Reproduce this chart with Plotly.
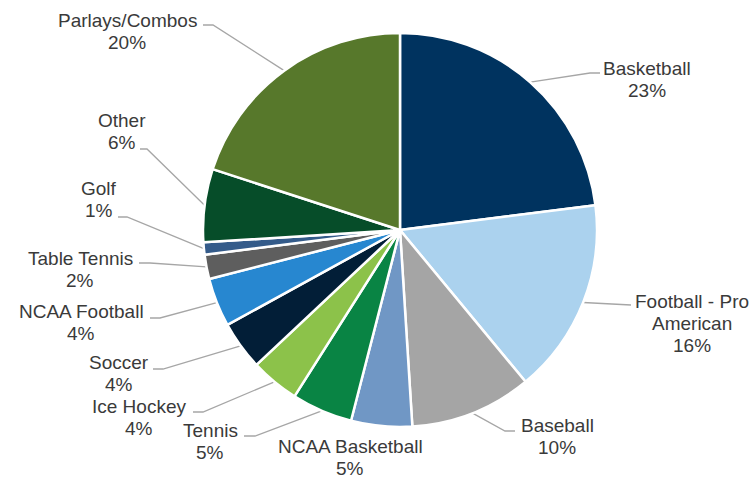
import math
import plotly.graph_objects as go

# Share of handle by sport
categories = ["Basketball", "Football - Pro American", "Baseball", "NCAA Basketball",
              "Tennis", "Ice Hockey", "Soccer", "NCAA Football", "Table Tennis",
              "Golf", "Other", "Parlays/Combos"]
shares = [23, 16, 10, 5, 5, 4, 4, 4, 2, 1, 6, 20]
colors = ["#00335f", "#abd2ee", "#a5a5a5", "#7097c5", "#098444", "#8cc24a",
          "#021e37", "#2787d0", "#5e5e5e", "#345b8a", "#064d29", "#57782b"]

W, H = 755, 478
CX, CY, R = 400, 230, 197          # pie centre and radius in pixels

# label layout: text lines, centre x, first baseline, leader elbow and end (None = no leader)
label_layout = {
    "Basketball": (["Basketball"], 647, 75, (590, 73), (600, 73)),
    "Football - Pro American": (["Football - Pro", "American"], 692, 308, (620, 305), (631, 305)),
    "Baseball": (["Baseball"], 557, 432, (505, 431), (515, 431)),
    "NCAA Basketball": (["NCAA Basketball"], 350, 453, None, None),
    "Tennis": (["Tennis"], 210, 437, (255, 436), (244, 436)),
    "Ice Hockey": (["Ice Hockey"], 139, 413, (203, 412), (193, 412)),
    "Soccer": (["Soccer"], 119, 369, (163, 369), (153, 369)),
    "NCAA Football": (["NCAA Football"], 81, 318, (160, 318), (150, 318)),
    "Table Tennis": (["Table Tennis"], 80, 265, (150, 263), (139, 263)),
    "Golf": (["Golf"], 99, 195, (127, 217), (118, 217)),
    "Other": (["Other"], 122, 127, (147, 149), (140, 149)),
    "Parlays/Combos": (["Parlays/Combos"], 127, 27, (213, 25), (203, 25)),
}

FONT = dict(family="Liberation Sans, Arial, sans-serif", size=19, color="#3a3a3a")
LINE_GAP = 22
LEADER = "#a6a6a6"

fig = go.Figure()
fig.add_trace(go.Pie(
    labels=categories, values=shares, sort=False, direction="clockwise", rotation=0,
    marker=dict(colors=colors, line=dict(color="white", width=2.5)),
    textinfo="none", hoverinfo="label+percent", showlegend=False,
    domain=dict(x=[(CX - R) / W, (CX + R) / W], y=[(H - CY - R) / H, (H - CY + R) / H]),
))

total = sum(shares)
cum = 0
annotations = []
for name, v in zip(categories, shares):
    mid = (cum + v / 2) / total * 2 * math.pi
    cum += v
    ax, ay = CX + R * math.sin(mid), CY - R * math.cos(mid)
    lines, lx, base, elbow, end = label_layout[name]
    pct = f"{round(v / total * 100)}%"
    for i, t in enumerate(lines + [pct]):
        annotations.append(dict(x=lx, y=base + i * LINE_GAP - 7, text=t, showarrow=False,
                                xref="x", yref="y", xanchor="center", yanchor="middle",
                                font=FONT))
    if elbow is not None:
        fig.add_trace(go.Scatter(x=[ax, elbow[0], end[0]], y=[ay, elbow[1], end[1]],
                                 mode="lines", line=dict(color=LEADER, width=1.3),
                                 hoverinfo="skip", showlegend=False))

fig.update_layout(
    width=W, height=H, margin=dict(l=0, r=0, t=0, b=0),
    paper_bgcolor="white", plot_bgcolor="rgba(0,0,0,0)",
    xaxis=dict(range=[0, W], visible=False, fixedrange=True, domain=[0, 1]),
    yaxis=dict(range=[H, 0], visible=False, fixedrange=True, domain=[0, 1]),
    annotations=annotations,
)

fig.write_html("out.html")
